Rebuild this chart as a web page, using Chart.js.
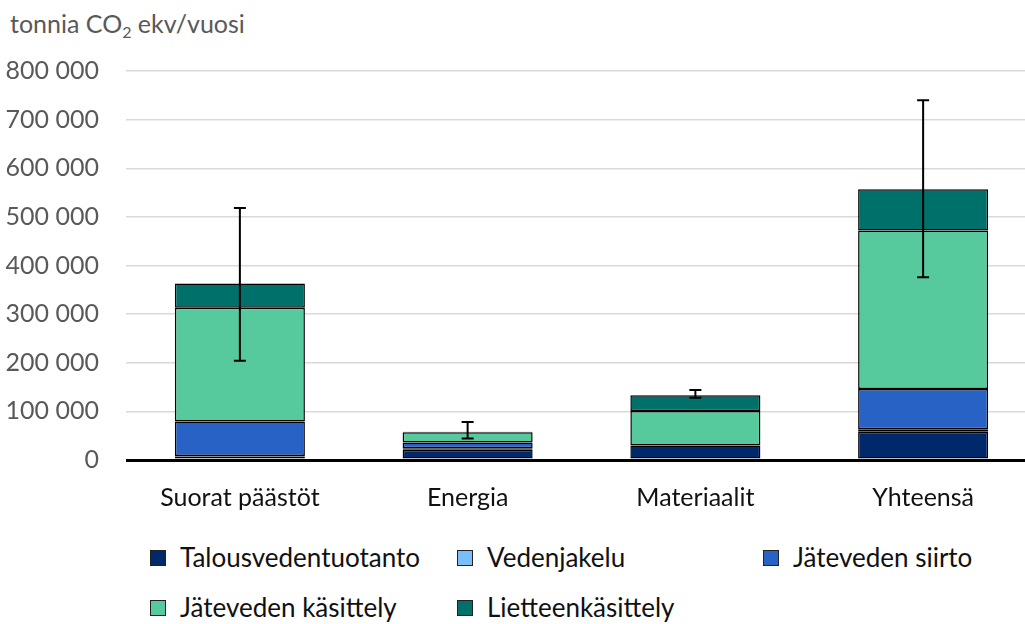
<!DOCTYPE html>
<html>
<head>
    <title>Päästöt</title>
    <script src="https://cdn.jsdelivr.net/npm/chart.js@4.4.1/dist/chart.umd.min.js"></script>
    <style>
        body { margin: 0; width: 1025px; height: 624px; overflow: hidden; background: #fff; font-family: Lato, sans-serif; position: relative; }
        #unit { position: absolute; left: 10px; top: 8px; font-size: 25px; color: #595959; }
        #unit sub { font-size: 16px; vertical-align: -5px; line-height: 0; }
        #wrap { position: absolute; left: 0; top: 0; width: 1037px; height: 528px; }
        .leg { position: absolute; font-size: 26px; color: #111; line-height: 30px; white-space: nowrap; }
        .leg span.box { display: inline-block; width: 14px; height: 14px; border: 1px solid #222; margin-right: 14px; vertical-align: 1px; }
    </style>
</head>
<body>
    <div id="unit">tonnia CO<sub>2</sub> ekv/vuosi</div>
    <div id="wrap"><canvas id="chart" width="1037" height="528"></canvas></div>
    <div id="legend"></div>
    <script>
        var categories = ['Suorat päästöt', 'Energia', 'Materiaalit', 'Yhteensä'];
        var talousvedentuotanto = [7000, 21000, 30000, 58000];
        var vedenjakelu = [1000, 3000, 0, 5000];
        var jatevedenSiirto = [71000, 12000, 0, 83000];
        var jatevedenKasittely = [234000, 21000, 71000, 326000];
        var lietteenkasittely = [50000, 1000, 32000, 85000];
        var errLow = [204000, 44000, 128000, 376000];
        var errHigh = [518000, 78000, 144000, 740000];
        var yTicks = [0, 100000, 200000, 300000, 400000, 500000, 600000, 700000, 800000];

        var series = [
            { label: 'Talousvedentuotanto', data: talousvedentuotanto, color: '#00296b' },
            { label: 'Vedenjakelu', data: vedenjakelu, color: '#79bdfb' },
            { label: 'Jäteveden siirto', data: jatevedenSiirto, color: '#2762c4' },
            { label: 'Jäteveden käsittely', data: jatevedenKasittely, color: '#57ca9d' },
            { label: 'Lietteenkäsittely', data: lietteenkasittely, color: '#00706b' }
        ];

        // error bars around the stack total
        var errorBars = {
            id: 'errorBars',
            afterDatasetsDraw: function(chart) {
                var c = chart.ctx, x = chart.scales.x, y = chart.scales.y;
                c.save();
                c.strokeStyle = '#000';
                c.lineWidth = 2;
                for (var i = 0; i < categories.length; i++) {
                    var cx = x.getPixelForValue(i);
                    var top = y.getPixelForValue(errHigh[i]);
                    var bot = y.getPixelForValue(errLow[i]);
                    c.beginPath();
                    c.moveTo(cx, top); c.lineTo(cx, bot);
                    c.moveTo(cx - 6, top); c.lineTo(cx + 6, top);
                    c.moveTo(cx - 6, bot); c.lineTo(cx + 6, bot);
                    c.stroke();
                }
                c.restore();
            }
        };

        var ctx = document.getElementById('chart').getContext('2d');
        var chart = new Chart(ctx, {
            type: 'bar',
            data: {
                labels: categories,
                datasets: series.map(function(s) {
                    return {
                        label: s.label,
                        data: s.data,
                        backgroundColor: s.color,
                        borderColor: '#000',
                        borderWidth: 1.5,
                        borderSkipped: false,
                        categoryPercentage: 1,
                        barPercentage: 0.571
                    };
                })
            },
            options: {
                responsive: false,
                animation: false,
                layout: { padding: { top: 71, left: 0, right: 0, bottom: 0 } },
                plugins: { legend: { display: false }, tooltip: { enabled: false } },
                scales: {
                    x: {
                        stacked: true,
                        grid: { display: false },
                        border: { display: false },
                        ticks: { color: '#111', font: { family: 'Lato', size: 25 }, padding: 15 }
                    },
                    y: {
                        stacked: true,
                        min: 0,
                        max: 800000,
                        afterFit: function(scale) { scale.width = 126; },
                        afterBuildTicks: function(scale) {
                            scale.ticks = yTicks.map(function(v) { return { value: v }; });
                        },
                        grid: {
                            drawTicks: false,
                            color: function(c) { return c.tick && c.tick.value === 0 ? '#000' : '#d9d9d9'; },
                            lineWidth: function(c) { return c.tick && c.tick.value === 0 ? 3 : 1.5; }
                        },
                        border: { display: false },
                        ticks: {
                            color: '#595959',
                            font: { family: 'Lato', size: 25 },
                            padding: 27,
                            callback: function(v) { return String(v).replace(/\B(?=(\d{3})+(?!\d))/g, ' '); }
                        }
                    }
                }
            },
            plugins: [errorBars]
        });

        // legend laid out like the original
        var legPos = [[150, 558], [457, 558], [763, 558], [150, 608], [457, 608]];
        var legend = document.getElementById('legend');
        series.forEach(function(s, i) {
            var d = document.createElement('div');
            d.className = 'leg';
            d.style.left = legPos[i][0] + 'px';
            d.style.top = (legPos[i][1] - 16) + 'px';
            d.innerHTML = '<span class="box" style="background:' + s.color + '"></span>' + s.label;
            legend.appendChild(d);
        });
    </script>
</body>
</html>
